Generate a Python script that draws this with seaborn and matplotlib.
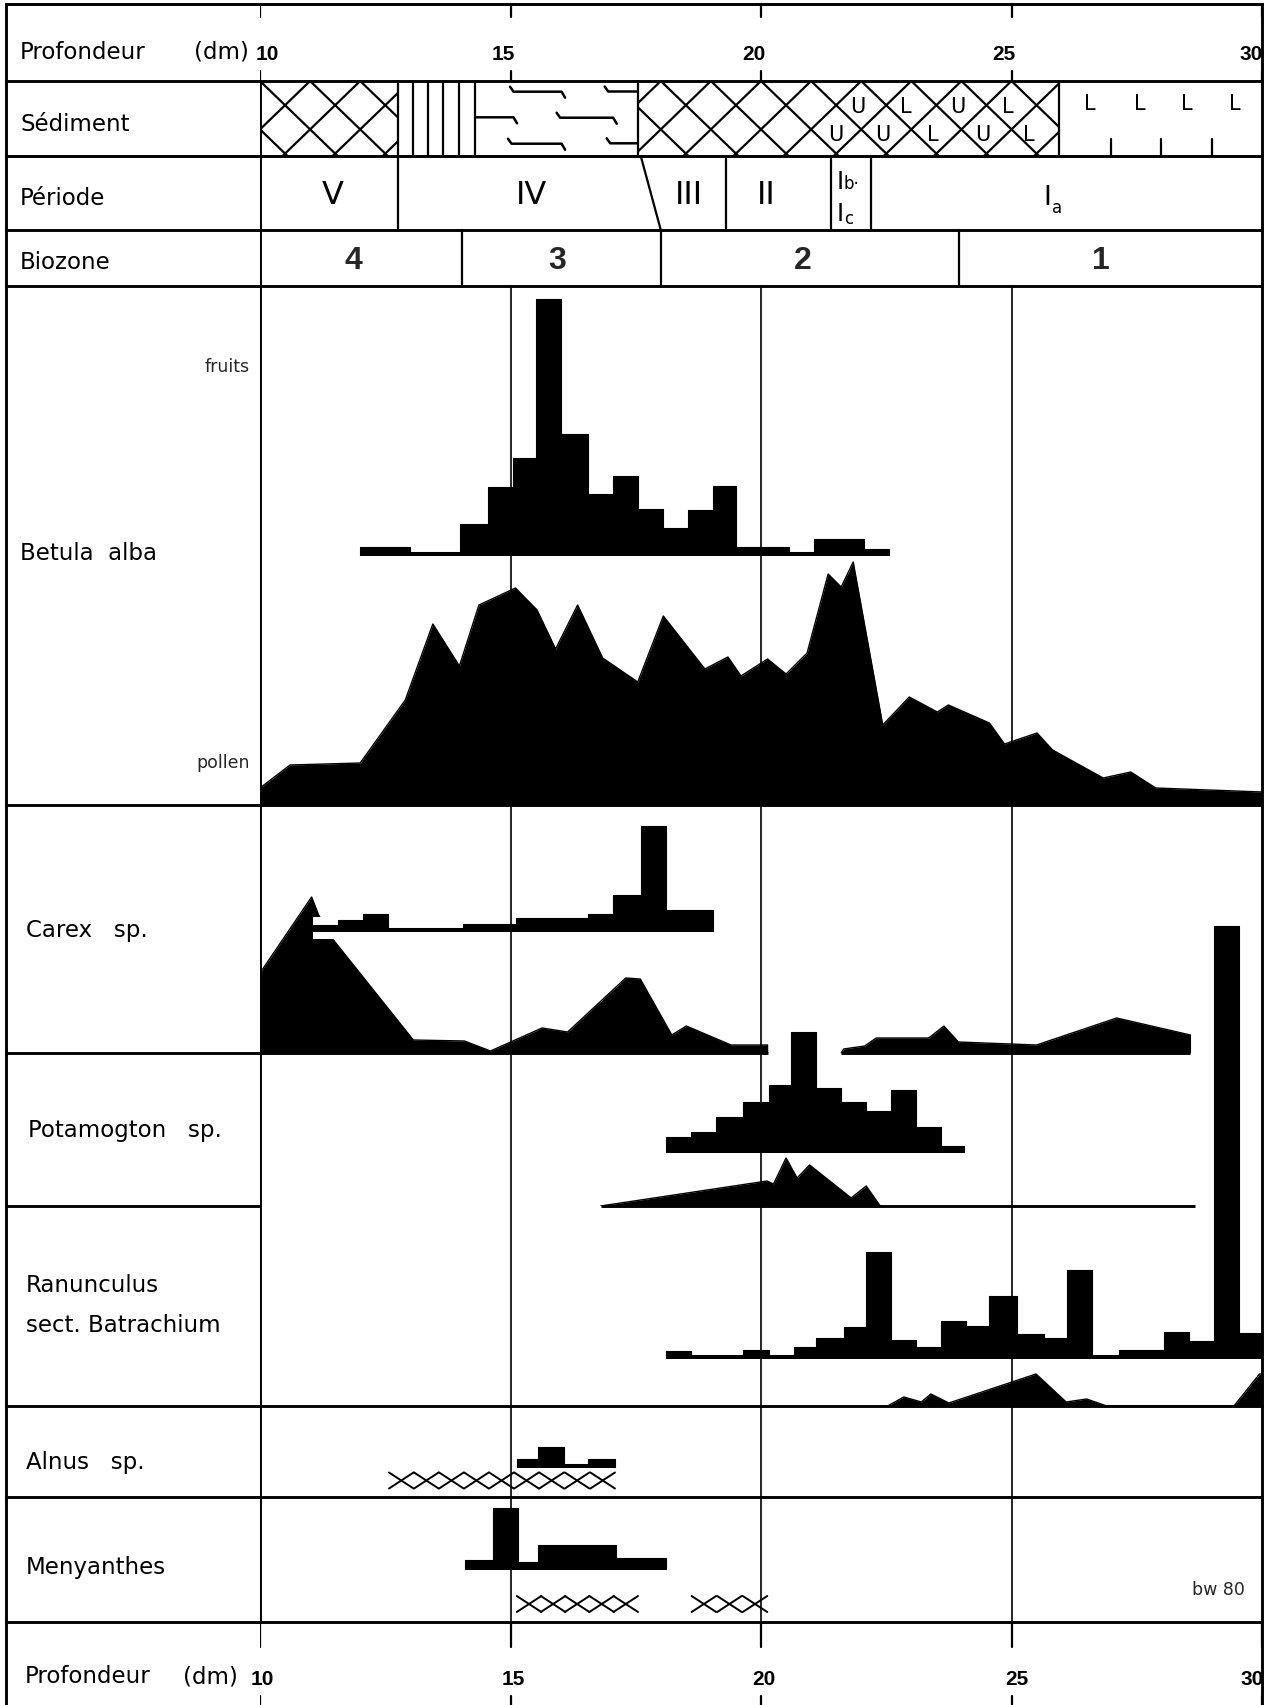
import numpy as np
import pandas as pd
import matplotlib
matplotlib.use("Agg")
import matplotlib.pyplot as plt
from matplotlib.patches import Rectangle
import seaborn as sns

sns.set_style("white")
plt.rcParams["font.family"] = ["DejaVu Sans"]

# ------------------------------------------------------------------ data
depth_ticks = [10, 15, 20, 25, 30]

# sediment layers (depth in dm)
sed_lattice = [(10.0, 12.75), (17.55, 25.95)]
sed_vlines_region = (12.75, 14.3)
sed_vlines = [13.05, 13.35, 13.65, 13.98]
sed_wavy_region = (14.3, 17.55)
sed_silt_region = (25.95, 30.0)

# periods
period_bounds = [12.75, 19.3, 21.4, 22.2]
period_slant = (17.6, 18.0)
period_labels = ["V", "IV", "III", "II"]
period_label_pos = [11.45, 15.41, 18.56, 20.11]

# biozones
biozone_bounds = [14.03, 18.0, 23.95]
biozone_labels = ["4", "3", "2", "1"]
biozone_label_pos = [11.87, 15.93, 20.84, 26.79]

# Betula alba
betula_fruit_edges = [12.0, 13.0, 14.0, 14.55, 15.05, 15.5, 16.0, 16.55, 17.05,
                      17.55, 18.05, 18.55, 19.05, 19.5, 20.55, 21.05, 22.05, 22.55]
betula_fruit_vals = [8, 0, 31, 68, 97, 256, 121, 61, 79, 46, 27, 45, 69, 8, 0, 16, 6]
betula_pollen_depth = [10.0, 10.6, 12.0, 12.9, 13.45, 13.98, 14.37, 15.1, 15.53, 15.9,
                       16.34, 16.84, 17.54, 18.05, 18.88, 19.34, 19.6, 20.13, 20.5, 20.92,
                       21.34, 21.6, 21.84, 22.43, 22.96, 23.52, 23.74, 24.56, 24.86, 25.51,
                       25.82, 26.83, 27.38, 27.88, 30.0]
betula_pollen_vals = [17, 40, 42, 105, 181, 139, 200, 217, 195, 156,
                      200, 147, 123, 189, 136, 148, 129, 146, 131, 152,
                      231, 218, 243, 80, 108, 93, 100, 82, 61, 72,
                      55, 27, 33, 17, 13]

# Carex sp.
carex_fruit_edges = [11.05, 11.55, 12.05, 12.55, 14.05, 15.1, 16.55, 17.05, 17.6, 18.1, 19.05]
carex_fruit_vals = [6, 11, 17, 0, 7, 13, 17, 36, 105, 21]
carex_pollen_depth_a = [10.0, 11.03, 11.17, 11.45, 13.06, 14.08, 14.6, 15.63, 16.14,
                        17.3, 17.59, 18.22, 18.51, 19.4, 20.13, 20.13]
carex_pollen_vals_a = [80, 156, 138, 114, 13, 12, 2, 25, 21, 75, 74, 18, 27, 8, 8, 0]
carex_pollen_depth_b = [21.6, 21.65, 22.07, 22.3, 23.35, 23.65, 23.94, 25.5, 27.1, 28.57, 28.57]
carex_pollen_vals_b = [0, 4, 7, 15, 15, 27, 11, 8, 35, 18, 0]

# Potamogton sp.
pota_fruit_edges = [18.1, 18.6, 19.1, 19.65, 20.15, 20.6, 21.1, 21.6, 22.1, 22.6, 23.1, 23.6, 24.05]
pota_fruit_vals = [15, 20, 35, 50, 67, 120, 64, 50, 41, 62, 25, 6]
pota_pollen_depth = [16.8, 20.12, 20.25, 20.5, 20.72, 20.97, 21.8, 22.1, 22.38]
pota_pollen_vals = [0, 25, 22, 48, 28, 41, 8, 20, 0]
pota_pollen_extent = (16.8, 28.66)

# Ranunculus sect. Batrachium
ranu_fruit_edges = [18.1, 18.6, 19.65, 20.15, 20.65, 21.1, 21.65, 22.1, 22.6, 23.1, 23.6,
                    24.1, 24.55, 25.1, 25.65, 26.1, 26.6, 27.15, 28.05, 28.55, 29.05, 29.55, 30.0]
ranu_fruit_vals = [7, 0, 8, 0, 11, 20, 31, 106, 18, 11, 37, 32, 62, 24, 20, 88, 0, 8, 26, 17, 432, 25]
ranu_pollen_depth = [22.53, 22.85, 23.2, 23.39, 23.75, 25.49, 26.09, 26.5, 26.9, 29.44, 29.95, 30.0]
ranu_pollen_vals = [0, 9, 4, 12, 3, 32, 4, 7, 0, 0, 32, 32]

# Alnus sp.
alnus_fruit_edges = [15.13, 15.54, 16.07, 16.55, 17.09]
alnus_fruit_vals = [8, 20, 0, 8]
alnus_pollen_cross = [12.82, 13.32, 13.82, 14.32, 14.82, 15.32, 15.82, 16.33, 16.84]

# Menyanthes
meny_fruit_edges = [14.1, 14.65, 15.15, 15.55, 17.1, 18.1]
meny_fruit_vals = [9, 61, 7, 24, 11]
meny_pollen_cross = [15.37, 15.85, 16.33, 16.82, 17.3, 18.86, 19.37, 19.88]

row_labels = ["Sédiment", "Période", "Biozone", "Betula  alba", "Carex   sp.",
              "Potamogton   sp.", "Ranunculus", "sect. Batrachium", "Alnus   sp.", "Menyanthes"]

# ------------------------------------------------------------------ layout
W, H = 1272, 1706
X10, X30 = 260.0, 1262.0
LW = 2.1
fig = plt.figure(figsize=(W / 100, H / 100), dpi=100)
fig.patch.set_facecolor("white")

ax_bg = fig.add_axes([0, 0, 1, 1])
ax_bg.set_xlim(0, W); ax_bg.set_ylim(H, 0); ax_bg.axis("off")

ax_d = fig.add_axes([X10 / W, 0, (X30 - X10) / W, 1])
ax_d.set_xlim(10, 30); ax_d.set_ylim(H, 0); ax_d.axis("off")

LABEL_FONT = dict(family="DejaVu Sans", fontsize=16.5, color="black")
NUM_FONT = dict(family="Liberation Sans", fontweight="bold", fontsize=15, color="black")

# frame
ax_bg.plot([6, 6], [5, H], color="black", lw=LW)
ax_bg.plot([X30, X30], [5, H], color="black", lw=LW)
for y in [5, 82, 157, 231, 287, 806, 1407, 1498, 1623]:
    ax_bg.plot([6, X30], [y, y], color="black", lw=LW, solid_capstyle="projecting")
for y in [1054, 1207]:
    ax_bg.plot([6, X10], [y, y], color="black", lw=LW)

# depth ticks and labels
for t in depth_ticks:
    for (y0, y1) in [(5, 18), (72, 82), (1623, 1648), (1697, H)]:
        ax_d.plot([t, t], [y0, y1], color="black", lw=1.6)
top_off = [0.14, -0.15, -0.15, -0.15, -0.22]
bot_off = [0.05, 0.05, 0.05, 0.1, -0.2]
for t, o in zip(depth_ticks, top_off):
    ax_d.text(t + o, 54, str(t), ha="center", va="center", **NUM_FONT)
for t, o in zip(depth_ticks, bot_off):
    ax_d.text(t + o, 1680, str(t), ha="center", va="center", **NUM_FONT)
ax_bg.text(20, 52, "Profondeur", ha="left", va="center", **LABEL_FONT)
ax_bg.text(249, 52, "(dm)", ha="right", va="center", **LABEL_FONT)
ax_bg.text(25, 1677, "Profondeur", ha="left", va="center", **LABEL_FONT)
ax_bg.text(238, 1677, "(dm)", ha="right", va="center", **LABEL_FONT)

# row labels
label_y = [124, 198, 262, 553, 930, 1130, 1285, 1325, 1462, 1568]
label_x = [20, 20, 20, 20, 26, 28, 26, 26, 26, 26]
for s, x, y in zip(row_labels, label_x, label_y):
    ax_bg.text(x, y, s, ha="left", va="center", **LABEL_FONT)
ax_bg.text(250, 367, "fruits", ha="right", va="center", family="DejaVu Sans", fontsize=12.5)
ax_bg.text(250, 763, "pollen", ha="right", va="center", family="DejaVu Sans", fontsize=12.5)
ax_bg.text(1245, 1590, "bw 80", ha="right", va="center", family="DejaVu Sans", fontsize=12.5)

# ------------------------------------------------------------------ sediment row
S_T, S_B = 82, 157
def clip_box(x0, x1):
    return Rectangle((x0, S_T), x1 - x0, S_B - S_T, transform=ax_d.transData)

for (a, b) in sed_lattice:
    box = clip_box(a, b)
    for k in range(int(a) - 2, int(b) + 3):
        for s in (1.55, -1.55):
            ln, = ax_d.plot([k, k + s], [S_T, S_B], color="black", lw=1.6)
            ln.set_clip_path(box)
for x in [sed_vlines_region[0], sed_vlines_region[1], sed_wavy_region[1], sed_silt_region[0]]:
    ax_d.plot([x, x], [S_T, S_B], color="black", lw=1.6)
for x in sed_vlines:
    ax_d.plot([x, x], [S_T, S_B], color="black", lw=1.6)

waves = [(15.06, 16.02, 92.7, True, True), (16.95, 17.52, 92.5, True, False),
         (14.3, 15.06, 118.3, False, True), (15.99, 17.05, 118.7, True, True),
         (15.02, 16.02, 144.7, True, True), (16.99, 17.52, 144.3, True, False)]
for (x0, x1, y, lh, rh) in waves:
    xs, ys = [], []
    if lh:
        xs += [x0 - 0.07]; ys += [y - 5]
    xs += [x0, x1]; ys += [y, y]
    if rh:
        xs += [x1 + 0.07]; ys += [y + 6]
    ax_d.plot(xs, ys, color="black", lw=1.8)

LETTER = dict(family="DejaVu Sans", fontsize=15, ha="center", va="center", color="black")
for x, ch in [(21.94, "U"), (22.89, "L"), (23.93, "U"), (24.92, "L")]:
    ax_d.text(x, 107, ch, **LETTER)
for x, ch in [(21.49, "U"), (22.44, "U"), (23.43, "L"), (24.43, "U"), (25.34, "L")]:
    ax_d.text(x, 135, ch, **LETTER)
for x in [26.57, 27.56, 28.5, 29.46]:
    ax_d.text(x, 104, "L", **LETTER)
for x in [26.98, 27.99, 29.0]:
    ax_d.plot([x, x], [140, S_B], color="black", lw=1.6)

# ------------------------------------------------------------------ periods & biozones
for x in period_bounds:
    ax_d.plot([x, x], [157, 231], color="black", lw=1.6)
ax_d.plot([period_slant[0], period_slant[1]], [157, 231], color="black", lw=1.6)
ROMAN = dict(family="DejaVu Sans", fontsize=23, ha="center", va="center", color="black")
for s, x in zip(period_labels, period_label_pos):
    ax_d.text(x, 195, s, **ROMAN)
THIN = dict(family="DejaVu Sans", va="center", color="black")
ax_d.text(21.58, 182, "I", fontsize=17, ha="center", **THIN)
ax_d.text(21.65, 184, "b·", fontsize=12, ha="left", **THIN)
ax_d.text(21.58, 214, "I", fontsize=17, ha="center", **THIN)
ax_d.text(21.65, 219, "c", fontsize=12, ha="left", **THIN)
ax_d.text(25.72, 198, "I", fontsize=19, ha="center", **THIN)
ax_d.text(25.8, 208, "a", fontsize=12, ha="left", **THIN)

for x in biozone_bounds:
    ax_d.plot([x, x], [231, 287], color="black", lw=1.6)
for s, x in zip(biozone_labels, biozone_label_pos):
    ax_d.text(x, 261, s, ha="center", va="center", family="Liberation Sans",
              fontweight="bold", fontsize=23)

# ------------------------------------------------------------------ data panels
def data_axes(base, height):
    return fig.add_axes([X10 / W, (H - base) / H, (X30 - X10) / W, height / H])

def finish(ax, height):
    ax.set_xlim(10, 30); ax.set_ylim(0, height); ax.axis("off")

def fruit_hist(base, height, edges, vals, base_lw=2.2, halo=0):
    ax = data_axes(base, height)
    edges = [float(e) for e in edges]
    centers = [(a + b) / 2 for a, b in zip(edges[:-1], edges[1:])]
    df = pd.DataFrame({"depth": centers, "n": vals})
    bl = base_lw * 100 / 72
    if halo:
        tops = [max(v, bl) + halo for v in vals]
        ax.fill_between(edges, tops + [tops[-1]], -halo, step="post", color="white",
                        lw=0, zorder=1, clip_on=False)
    sns.histplot(data=df, x="depth", weights="n", bins=edges, element="step",
                 fill=True, color="black", edgecolor="black", alpha=1, linewidth=0.8,
                 zorder=3, ax=ax)
    ax.plot([edges[0], edges[-1]], [bl / 2, bl / 2], color="black", lw=base_lw,
            solid_capstyle="butt", zorder=4, clip_on=False)
    finish(ax, height)
    return ax

def pollen_curve(ax, depth, vals):
    df = pd.DataFrame({"depth": depth, "v": vals})
    ax.fill_between(df["depth"], df["v"], 0, color="black", lw=0)
    sns.lineplot(data=df, x="depth", y="v", color="black", lw=1, estimator=None,
                 sort=False, ax=ax)

def crosses(ax, centers, yc, half_h=8, half_w=0.245):
    for c in centers:
        ax.plot([c - half_w, c + half_w], [yc - half_h, yc + half_h], color="black", lw=1.4)
        ax.plot([c - half_w, c + half_w], [yc + half_h, yc - half_h], color="black", lw=1.4)

# Betula
ax = data_axes(806, 520)
pollen_curve(ax, betula_pollen_depth, betula_pollen_vals)
finish(ax, 520)
fruit_hist(556, 270, betula_fruit_edges, betula_fruit_vals)

# Carex
ax = data_axes(1054, 250)
pollen_curve(ax, carex_pollen_depth_a, carex_pollen_vals_a)
pollen_curve(ax, carex_pollen_depth_b, carex_pollen_vals_b)
for seg in (carex_pollen_depth_a, carex_pollen_depth_b):
    ax.plot([seg[0], seg[-1]], [0, 0], color="black", lw=LW, solid_capstyle="butt",
            clip_on=False)
finish(ax, 250)
fruit_hist(932, 130, carex_fruit_edges, carex_fruit_vals, halo=8)

# Potamogton
ax = data_axes(1207, 150)
pollen_curve(ax, pota_pollen_depth, pota_pollen_vals)
ax.plot(list(pota_pollen_extent), [0, 0], color="black", lw=LW, solid_capstyle="butt",
        clip_on=False)
finish(ax, 150)
fruit_hist(1153, 130, pota_fruit_edges, pota_fruit_vals)

# Ranunculus
ax = data_axes(1407, 200)
pollen_curve(ax, ranu_pollen_depth, ranu_pollen_vals)
finish(ax, 200)
fruit_hist(1359, 440, ranu_fruit_edges, ranu_fruit_vals)

# Alnus
ax = data_axes(1498, 90)
crosses(ax, alnus_pollen_cross, 16.5)
finish(ax, 90)
fruit_hist(1468, 30, alnus_fruit_edges, alnus_fruit_vals)

# Menyanthes
ax = data_axes(1623, 125)
crosses(ax, meny_pollen_cross, 18)
finish(ax, 125)
fruit_hist(1570, 70, meny_fruit_edges, meny_fruit_vals, base_lw=4.5)

# vertical grid lines on top (black over black is invisible)
ax_g = fig.add_axes([X10 / W, 0, (X30 - X10) / W, 1])
ax_g.set_xlim(10, 30); ax_g.set_ylim(H, 0); ax_g.axis("off")
ax_g.plot([10, 10], [82, 1623], color="black", lw=LW)
for t in [15, 20, 25]:
    ax_g.plot([t, t], [287, 1623], color="black", lw=1.2)

fig.savefig("out.png", dpi=100, facecolor="white")
